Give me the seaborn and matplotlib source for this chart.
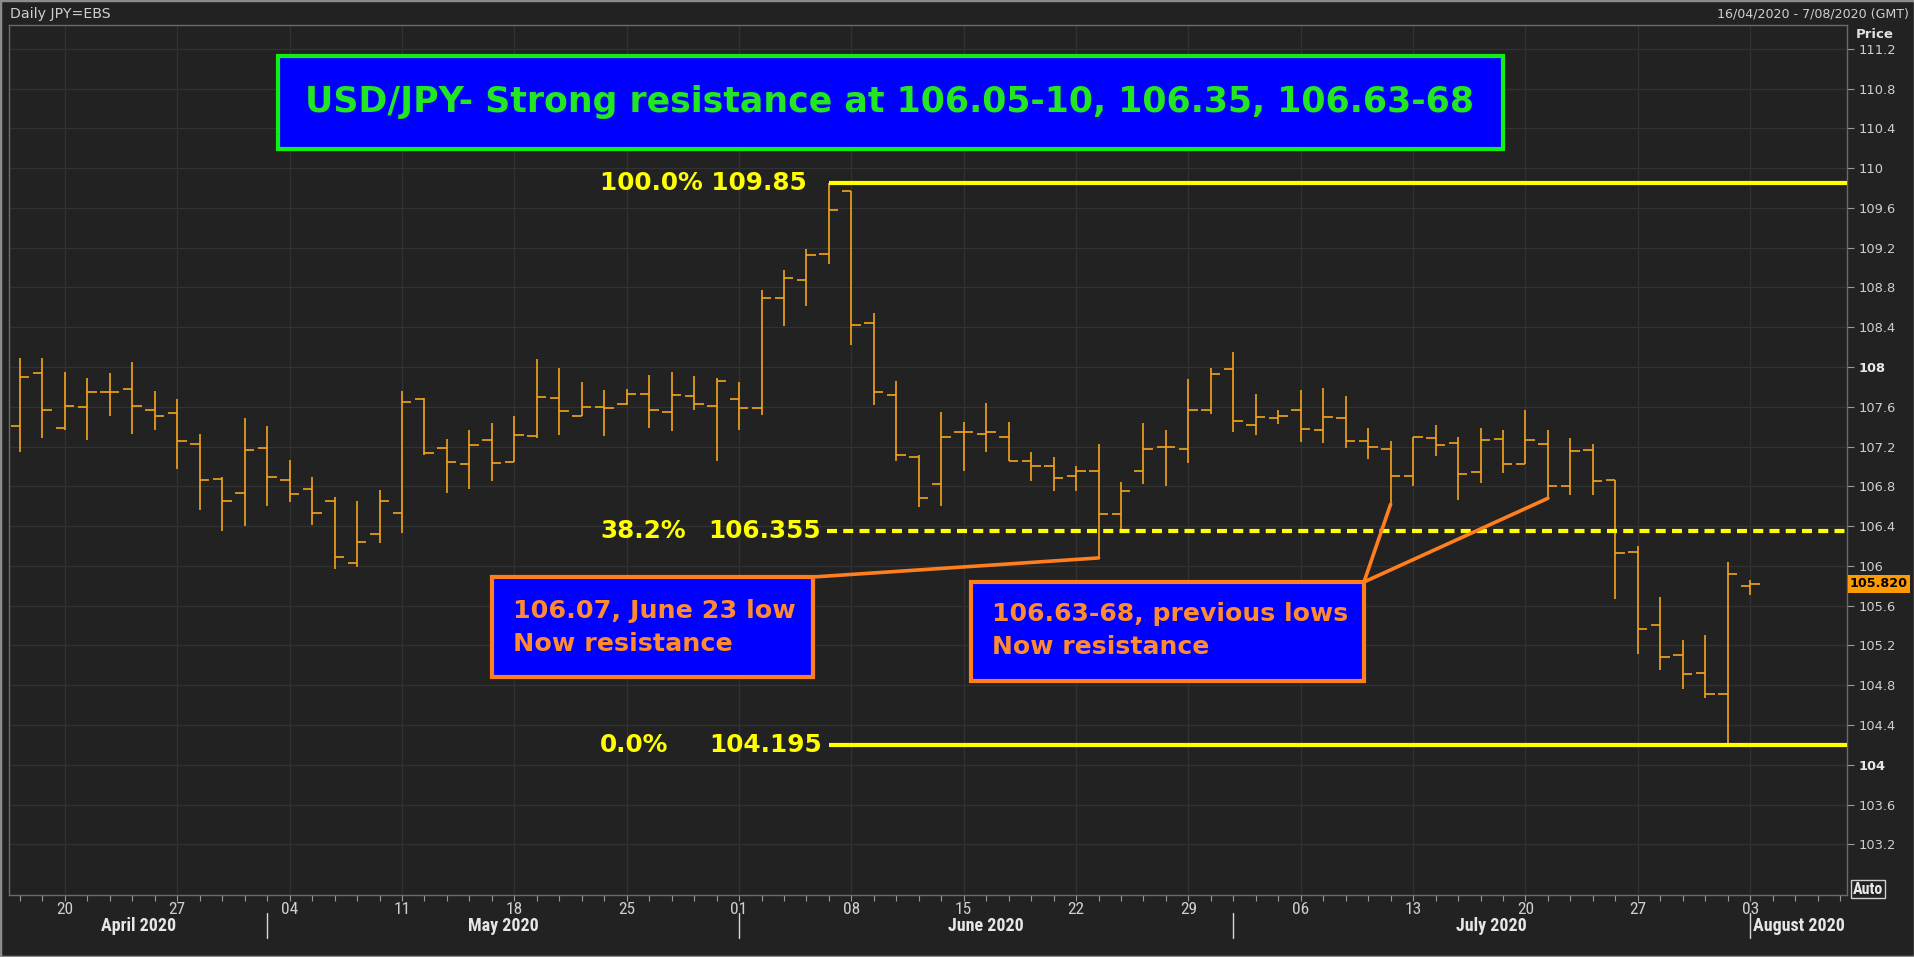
import numpy as np
import pandas as pd
import matplotlib
matplotlib.use("Agg")
import matplotlib.pyplot as plt
import matplotlib.transforms as mtransforms
from matplotlib.patches import Rectangle
from matplotlib.lines import Line2D
from matplotlib import font_manager as fm
import seaborn as sns

# ---------------- data ----------------
dates = ["2020-04-16", "2020-04-17", "2020-04-20", "2020-04-21", "2020-04-22", "2020-04-23", "2020-04-24",
         "2020-04-27", "2020-04-28", "2020-04-29", "2020-04-30",
         "2020-05-01", "2020-05-04", "2020-05-05", "2020-05-06", "2020-05-07", "2020-05-08",
         "2020-05-11", "2020-05-12", "2020-05-13", "2020-05-14", "2020-05-15",
         "2020-05-18", "2020-05-19", "2020-05-20", "2020-05-21", "2020-05-22",
         "2020-05-25", "2020-05-26", "2020-05-27", "2020-05-28", "2020-05-29",
         "2020-06-01", "2020-06-02", "2020-06-03", "2020-06-04", "2020-06-05",
         "2020-06-08", "2020-06-09", "2020-06-10", "2020-06-11", "2020-06-12",
         "2020-06-15", "2020-06-16", "2020-06-17", "2020-06-18", "2020-06-19",
         "2020-06-22", "2020-06-23", "2020-06-24", "2020-06-25", "2020-06-26",
         "2020-06-29", "2020-06-30", "2020-07-01", "2020-07-02", "2020-07-03",
         "2020-07-06", "2020-07-07", "2020-07-08", "2020-07-09", "2020-07-10",
         "2020-07-13", "2020-07-14", "2020-07-15", "2020-07-16", "2020-07-17",
         "2020-07-20", "2020-07-21", "2020-07-22", "2020-07-23", "2020-07-24",
         "2020-07-27", "2020-07-28", "2020-07-29", "2020-07-30", "2020-07-31",
         "2020-08-03"]

opens = [107.41, 107.94, 107.39, 107.60, 107.75, 107.78, 107.57,
         107.54, 107.23, 106.87, 106.73,
         107.19, 106.86, 106.77, 106.65, 106.03, 106.32,
         106.53, 107.68, 107.19, 107.02, 107.27,
         107.04, 107.31, 107.69, 107.51, 107.60,
         107.63, 107.73, 107.55, 107.71, 107.61,
         107.68, 107.59, 108.69, 108.88, 109.14,
         109.77, 108.44, 107.72, 107.10, 106.82,
         107.35, 107.33, 107.30, 107.05, 107.00,
         106.90, 106.95, 106.52, 106.95, 107.20,
         107.18, 107.57, 107.98, 107.42, 107.49,
         107.57, 107.37, 107.49, 107.26, 107.18,
         106.90, 107.29, 107.24, 106.94, 107.28,
         107.02, 107.23, 106.80, 107.17, 106.86,
         106.14, 105.41, 105.10, 104.92, 104.71,
         105.80]

highs = [108.09, 108.09, 107.95, 107.89, 107.94, 108.05, 107.76,
         107.68, 107.33, 106.89, 107.49,
         107.41, 107.06, 106.89, 106.69, 106.65, 106.76,
         107.76, 107.69, 107.28, 107.37, 107.44,
         107.51, 108.08, 107.99, 107.85, 107.77,
         107.78, 107.92, 107.95, 107.91, 107.89,
         107.85, 108.77, 108.98, 109.19, 109.85,
         109.77, 108.54, 107.86, 107.12, 107.55,
         107.45, 107.64, 107.45, 107.15, 107.10,
         107.00, 107.23, 106.84, 107.44, 107.37,
         107.88, 107.99, 108.15, 107.73, 107.57,
         107.77, 107.79, 107.71, 107.39, 107.26,
         107.30, 107.42, 107.30, 107.39, 107.37,
         107.57, 107.37, 107.29, 107.23, 106.86,
         106.20, 105.69, 105.25, 105.30, 106.04,
         105.86]

lows = [107.15, 107.29, 107.37, 107.27, 107.51, 107.33, 107.37,
        106.97, 106.56, 106.35, 106.40,
        106.60, 106.64, 106.41, 105.97, 105.99, 106.23,
        106.33, 107.12, 106.73, 106.77, 106.85,
        107.04, 107.29, 107.32, 107.51, 107.31,
        107.62, 107.39, 107.36, 107.57, 107.05,
        107.37, 107.52, 108.41, 108.61, 109.04,
        108.22, 107.62, 107.05, 106.59, 106.60,
        106.95, 107.15, 107.05, 106.85, 106.75,
        106.75, 106.08, 106.35, 106.82, 106.80,
        107.03, 107.53, 107.35, 107.32, 107.43,
        107.25, 107.24, 107.19, 107.08, 106.62,
        106.80, 107.11, 106.66, 106.83, 106.93,
        107.02, 106.68, 106.71, 106.71, 105.67,
        105.11, 104.95, 104.76, 104.67, 104.195,
        105.71]

closes = [107.90, 107.57, 107.61, 107.75, 107.75, 107.61, 107.51,
          107.26, 106.86, 106.65, 107.17,
          106.89, 106.72, 106.53, 106.09, 106.24, 106.65,
          107.65, 107.14, 107.04, 107.22, 107.03,
          107.32, 107.70, 107.56, 107.60, 107.59,
          107.73, 107.57, 107.72, 107.63, 107.86,
          107.59, 108.69, 108.90, 109.13, 109.58,
          108.42, 107.75, 107.12, 106.68, 107.30,
          107.35, 107.35, 107.05, 107.00, 106.88,
          106.95, 106.52, 106.75, 107.18, 107.20,
          107.57, 107.93, 107.46, 107.50, 107.51,
          107.38, 107.50, 107.26, 107.20, 106.90,
          107.30, 107.22, 106.92, 107.27, 107.02,
          107.27, 106.80, 107.16, 106.85, 106.13,
          105.37, 105.08, 104.91, 104.71, 105.92,
          105.82]

fib_high = 109.85
fib_low = 104.195
fib_ratio = 0.382
y_ticks = [103.2, 103.6, 104.0, 104.4, 104.8, 105.2, 105.6, 106.0, 106.4, 106.8,
           107.2, 107.6, 108.0, 108.4, 108.8, 109.2, 109.6, 110.0, 110.4, 110.8, 111.2]
bold_y_ticks = [104.0, 108.0]

title_text = "USD/JPY- Strong resistance at 106.05-10, 106.35, 106.63-68"
note1_lines = ["106.07, June 23 low", "Now resistance"]
note2_lines = ["106.63-68, previous lows", "Now resistance"]
note1_date = "2020-06-23"
note2_dates = ["2020-07-10", "2020-07-21"]
header_left = "Daily JPY=EBS"
header_right = "16/04/2020 - 7/08/2020 (GMT)"

# ---------------- styling ----------------
W, H = 1915, 957
BG = "#222222"
GRID = "#323232"
SPINE = "#6a6a6a"
BAR = "#f4a41c"
YEL = "#ffff00"
GREEN = "#22e622"
BLUE = "#0000ff"
ORANGE = "#ff7f1e"
ORANGE_TXT = "#ff8a30"
TXT = "#cfcfcf"

sns.set_theme(style="dark")
plt.rcParams["font.family"] = ["DejaVu Sans"]
names = {f.name for f in fm.fontManager.ttflist}
NARROW, NARROW_KW = "DejaVu Sans", {"fontstretch": "condensed"}
for cand in ["Liberation Sans Narrow", "Roboto Condensed", "Open Sans Condensed"]:
    if cand in names:
        NARROW, NARROW_KW = cand, {}
        break

df = pd.DataFrame({"date": pd.to_datetime(dates), "open": opens, "high": highs,
                   "low": lows, "close": closes})
x = np.arange(len(df))

fig = plt.figure(figsize=(W / 100, H / 100), dpi=100, facecolor=BG)
L, R, T, B = 9, 1847, 25, 895
ax = fig.add_axes([L / W, 1 - B / H, (R - L) / W, (B - T) / H], facecolor=BG)
pxT = mtransforms.Affine2D().scale(1 / W, -1 / H).translate(0, 1) + fig.transFigure
blend_xd_ypx = mtransforms.blended_transform_factory(ax.transData, pxT)
blend_xpx_yd = mtransforms.blended_transform_factory(pxT, ax.transData)

x_left = -0.49
x_right = len(df) - 1 + 4.31
ax.set_xlim(x_left, x_right)
ax.set_ylim(102.69, 111.44)

# OHLC bars
ax.vlines(x, df["low"], df["high"], color=BAR, lw=1.2, zorder=3)
ax.hlines(df["open"], x - 0.42, x, color=BAR, lw=1.2, zorder=3)
ax.hlines(df["close"], x, x + 0.42, color=BAR, lw=1.2, zorder=3)

# grid / ticks
mondays = df.index[df["date"].dt.dayofweek == 0].to_numpy()
ax.set_xticks(mondays)
ax.set_xticklabels(df["date"].dt.strftime("%d").iloc[mondays], family=NARROW, fontsize=12.5,
                   color=TXT, **NARROW_KW)
ax.set_xticks(np.arange(0, int(x_right) + 1), minor=True)
ax.tick_params(axis="x", which="both", length=4, width=0.8, color="#9a9a9a", pad=1.0,
               bottom=True)
ax.yaxis.tick_right()
ax.set_yticks(y_ticks)
ax.set_yticklabels([f"{v:.1f}".rstrip("0").rstrip(".") for v in y_ticks])
ax.tick_params(axis="y", length=5, width=0.8, color="#9a9a9a", pad=3, labelsize=9.4,
               labelcolor=TXT, right=True)
for lab, v in zip(ax.get_yticklabels(), y_ticks):
    if v in bold_y_ticks:
        lab.set_fontweight("bold")
        lab.set_color("#e8e8e8")
ax.grid(True, which="major", color=GRID, lw=0.9)
ax.set_axisbelow(True)
for s in ax.spines.values():
    s.set_color(SPINE)
    s.set_linewidth(1)

# months
month_key = df["date"].dt.to_period("M")
starts = [i for i in range(len(df)) if i == 0 or month_key[i] != month_key[i - 1]]
bounds = [x_left if i == 0 else i for i in starts] + [x_right]
for k, i in enumerate(starts):
    center = (bounds[k] + bounds[k + 1]) / 2
    ax.text(center, 926, df["date"][i].strftime("%B %Y"), transform=blend_xd_ypx,
            ha="center", va="center", family=NARROW, fontweight="bold", fontsize=13,
            color="#e6e6e6", **NARROW_KW)
    if i != 0:
        ax.add_line(Line2D([i, i], [913, 938], transform=blend_xd_ypx, color="#d8d8d8",
                           lw=1.0, clip_on=False))

# Fibonacci levels
i_peak = int(np.argmax(df["high"]))
fib_mid = fib_low + fib_ratio * (fib_high - fib_low)
ax.hlines([fib_high, fib_low], i_peak, x_right, color=YEL, lw=3, zorder=4)
ax.hlines(fib_mid, i_peak - 0.1, x_right, color=YEL, lw=3, linestyles=(0, (2.4, 1.5)), zorder=4)

fig.canvas.draw()
rend = fig.canvas.get_renderer()


def fit(t, width):
    w = t.get_window_extent(rend).width
    t.set_fontsize(t.get_fontsize() * width / w)
    return t.get_fontsize()


t100 = ax.text(600, fib_high, f"100.0% {fib_high:.2f}", transform=blend_xpx_yd, ha="left",
               va="center", color=YEL, fontweight="bold", fontsize=20, zorder=6)
yfs = fit(t100, 207)
ax.text(600, fib_mid, f"{fib_ratio * 100:.1f}%", transform=blend_xpx_yd, ha="left",
        va="center", color=YEL, fontweight="bold", fontsize=yfs, zorder=6)
ax.text(821, fib_mid, f"{fib_mid:.3f}", transform=blend_xpx_yd, ha="right",
        va="center", color=YEL, fontweight="bold", fontsize=yfs, zorder=6)
ax.text(600, fib_low, "0.0%", transform=blend_xpx_yd, ha="left",
        va="center", color=YEL, fontweight="bold", fontsize=yfs, zorder=6)
ax.text(822, fib_low, f"{fib_low:.3f}", transform=blend_xpx_yd, ha="right",
        va="center", color=YEL, fontweight="bold", fontsize=yfs, zorder=6)

# title box
fig.patches.append(Rectangle((278, 56), 1225, 93, transform=pxT, facecolor=BLUE,
                             edgecolor="#12ee12", lw=3, zorder=5))
tt = fig.text(890, 102, title_text, transform=pxT, ha="center", va="center", color=GREEN,
              fontweight="bold", fontsize=28, zorder=6)
fit(tt, 1169)

# annotation boxes
fig.patches.append(Rectangle((492, 577), 321, 100, transform=pxT, facecolor=BLUE,
                             edgecolor=ORANGE, lw=3, zorder=5))
fig.patches.append(Rectangle((971, 582), 393, 99, transform=pxT, facecolor=BLUE,
                             edgecolor=ORANGE, lw=3, zorder=5))
n1 = fig.text(513, 611, note1_lines[0], transform=pxT, ha="left", va="center",
              color=ORANGE_TXT, fontweight="bold", fontsize=18, zorder=6)
f1 = fit(n1, 282)
n2 = fig.text(992, 614, note2_lines[0], transform=pxT, ha="left", va="center",
              color=ORANGE_TXT, fontweight="bold", fontsize=18, zorder=6)
f2 = fit(n2, 356)
fig.text(513, 644, note1_lines[1], transform=pxT, ha="left", va="center",
         color=ORANGE_TXT, fontweight="bold", fontsize=f1, zorder=6)
fig.text(992, 647, note2_lines[1], transform=pxT, ha="left", va="center",
         color=ORANGE_TXT, fontweight="bold", fontsize=f2, zorder=6)

idx = {d: i for i, d in enumerate(dates)}
arrow = dict(arrowstyle="-", color=ORANGE, lw=2.6, shrinkA=0, shrinkB=0)
ax.annotate("", xy=(idx[note1_date], lows[idx[note1_date]]), xytext=(813, 577),
            textcoords=pxT, arrowprops=arrow, zorder=7)
for d in note2_dates:
    ax.annotate("", xy=(idx[d], lows[idx[d]]), xytext=(1364, 582),
                textcoords=pxT, arrowprops=arrow, zorder=7)

# header texts
hl = fig.text(10, 14, header_left, transform=pxT, ha="left", va="center", color=TXT, fontsize=10)
fit(hl, 100)
hr = fig.text(1909, 14, header_right, transform=pxT, ha="right", va="center", color=TXT, fontsize=9.5)
fit(hr, 193)
fig.text(1856, 35, "Price", transform=pxT, ha="left", va="center", color="#e0e0e0",
         fontsize=9.5, fontweight="bold")

# last price tag
ax.text(1850, closes[-1], f"{closes[-1]:.3f}", transform=blend_xpx_yd, ha="left", va="center",
        color="black", fontweight="bold", fontsize=9.2, clip_on=False,
        bbox=dict(boxstyle="square,pad=0.18", facecolor="#ff9a00", edgecolor="none"))
fig.text(1868, 889, "Auto", transform=pxT, ha="center", va="center", color="#e8e8e8",
         fontsize=11.5, fontweight="bold", family=NARROW, **NARROW_KW,
         bbox=dict(boxstyle="square,pad=0.1", facecolor="none", edgecolor="#cfcfcf", lw=1))

fig.patches.append(Rectangle((0, 0), 1, 1, transform=fig.transFigure, fill=False,
                             edgecolor="#8c8c8c", lw=2.5, zorder=10))

fig.savefig("out.png", dpi=100, facecolor=BG)
